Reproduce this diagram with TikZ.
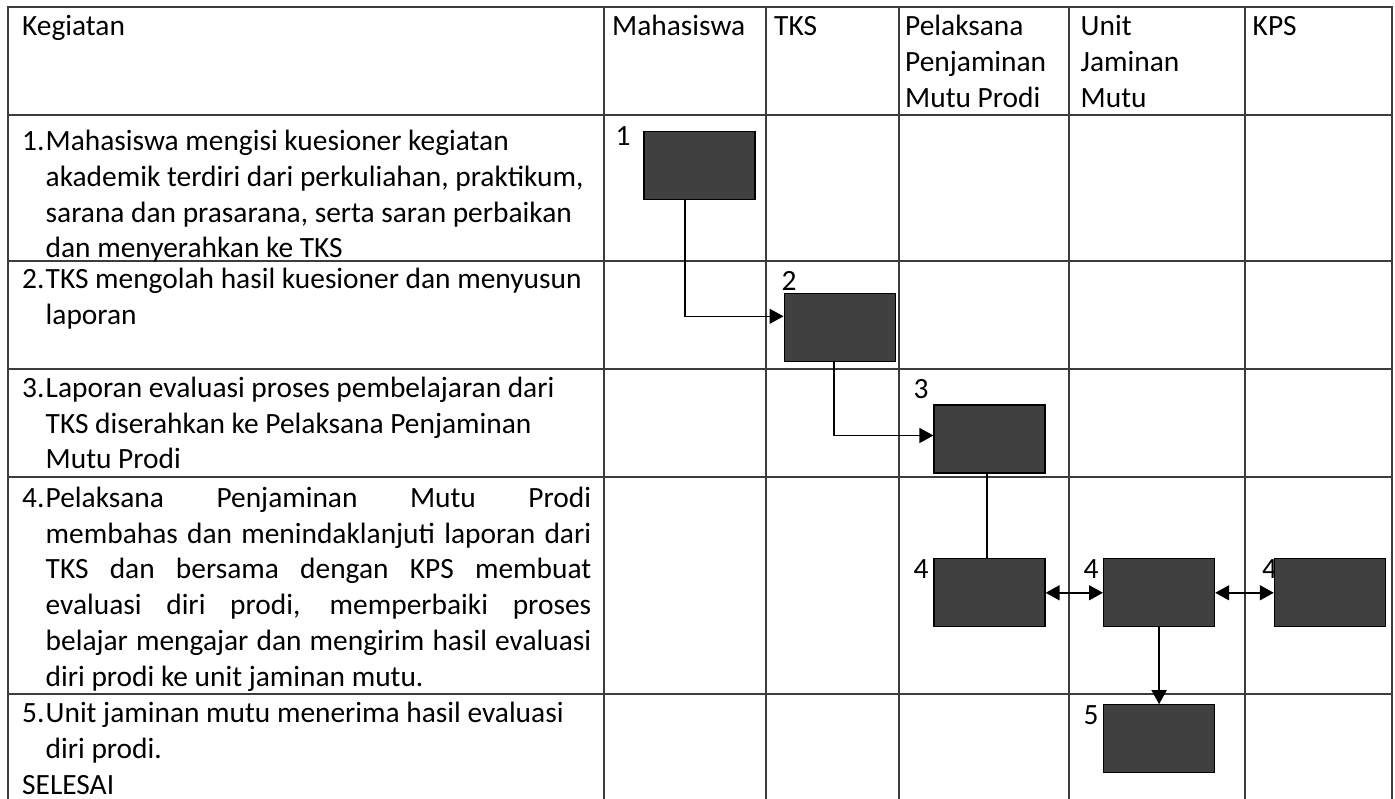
\documentclass[tikz,border=0pt]{standalone}
\usepackage{fontspec}
\setmainfont{Carlito}
\usetikzlibrary{arrows.meta,calc}
\definecolor{cBox}{HTML}{404040}
\definecolor{cGrid}{HTML}{3C3C3C}
\tikzset{
  >={Triangle[length=14pt,width=15pt]},
  grid/.style={draw=cGrid, line width=1.4pt, line cap=rect},
  actbox/.style={draw=black, fill=cBox, line width=1.2pt,
                 minimum width=111pt, minimum height=68pt, inner sep=0},
  txt/.style={anchor=base west, inner sep=0, align=left},
  flow/.style={line width=1.5pt},
}

\begin{document}
\begin{tikzpicture}[x=1pt, y=-1pt, font=\fontsize{29.4}{35.8}\selectfont]
    \useasboundingbox (0,0) rectangle (1395,799);
    % table rules
    \foreach \y in {7,115,261,369,477,694} \draw[grid] (8,\y) -- (1392,\y);
    \foreach \x in {8,604,766,899,1069,1245,1392} \draw[grid] (\x,7) -- (\x,799);
    % header (multi-line nodes sit on their last baseline)
    \node[txt] (hKeg) at (22,36) {Kegiatan};
    \node[txt] (hMhs) at (612,36) {Mahasiswa};
    \node[txt] (hTks) at (774,36) {TKS};
    \node[txt] (hPpm) at (905,107.6) {Pelaksana\\Penjaminan\\Mutu Prodi};
    \node[txt] (hUjm) at (1080.5,107.6) {Unit\\Jaminan\\Mutu};
    \node[txt] (hKps) at (1252.5,36) {KPS};
    % kegiatan
    \node[txt] (n1) at (22,150.5) {1.};
    \node[txt] (t1) at (45.5,257.9) {Mahasiswa mengisi kuesioner kegiatan\\
      akademik terdiri dari perkuliahan, praktikum,\\
      sarana dan prasarana, serta saran perbaikan\\
      dan menyerahkan ke TKS};
    \node[txt] (n2) at (22,288.7) {2.};
    \node[txt] (t2) at (45.5,324.5) {TKS mengolah hasil kuesioner dan menyusun\\laporan};
    \node[txt] (n3) at (22,397.2) {3.};
    \node[txt] (t3) at (45.5,468.8) {Laporan evaluasi proses pembelajaran dari\\
      TKS diserahkan ke Pelaksana Penjaminan\\Mutu Prodi};
    \node[txt] (n4) at (22,507.3) {4.};
    \node[txt] (t4) at (45.5,686.3) {%
      \makebox[545.5pt][s]{Pelaksana Penjaminan Mutu Prodi}\\
      \makebox[545.5pt][s]{membahas dan menindaklanjuti laporan dari}\\
      \makebox[545.5pt][s]{TKS dan bersama dengan KPS membuat}\\
      \makebox[545.5pt][s]{evaluasi diri prodi, memperbaiki proses}\\
      \makebox[545.5pt][s]{belajar mengajar dan mengirim hasil evaluasi}\\
      diri prodi ke unit jaminan mutu.};
    \node[txt] (n5) at (22,722.5) {5.};
    \node[txt] (t5) at (45.5,758.3) {Unit jaminan mutu menerima hasil evaluasi\\diri prodi.};
    \node[txt] (sel) at (22,794.1) {SELESAI};
    % step numbers
    \node[txt] (k1) at (615.3,146) {1};
    \node[txt] (k2) at (781.3,290.5) {2};
    \node[txt] (k3) at (913.3,399) {3};
    \node[txt] (k4a) at (913.3,578.8) {4};
    \node[txt] (k4b) at (1083.3,578.8) {4};
    \node[txt] (k4c) at (1262,578.8) {4};
    \node[txt] (k5) at (1083.3,724.5) {5};
    % activity boxes
    \node[actbox] (b1) at (699.5,165.5) {};
    \node[actbox] (b2) at (839.6,327.7) {};
    \node[actbox] (b3) at (989.5,439) {};
    \node[actbox] (b4a) at (989.5,592.8) {};
    \node[actbox] (b4b) at (1159.1,592.8) {};
    \node[actbox] (b4c) at (1329.9,592.8) {};
    \node[actbox] (b5) at (1159.1,738.8) {};
    % flow
    \draw[flow,->] ([xshift=-14.5pt]b1.south) |- ([yshift=11.4pt]b2.west);
    \draw[flow,->] ([xshift=-5.6pt]b2.south) |- ([yshift=3.5pt]b3.west);
    \draw[flow] ([xshift=-2.3pt]b3.south) -- ([xshift=-2.3pt]b4a.north);
    \draw[flow,<->] (b4a) -- (b4b);
    \draw[flow,<->] (b4b) -- (b4c);
    \draw[flow,->] (b4b) -- (b5);
\end{tikzpicture}
\end{document}
